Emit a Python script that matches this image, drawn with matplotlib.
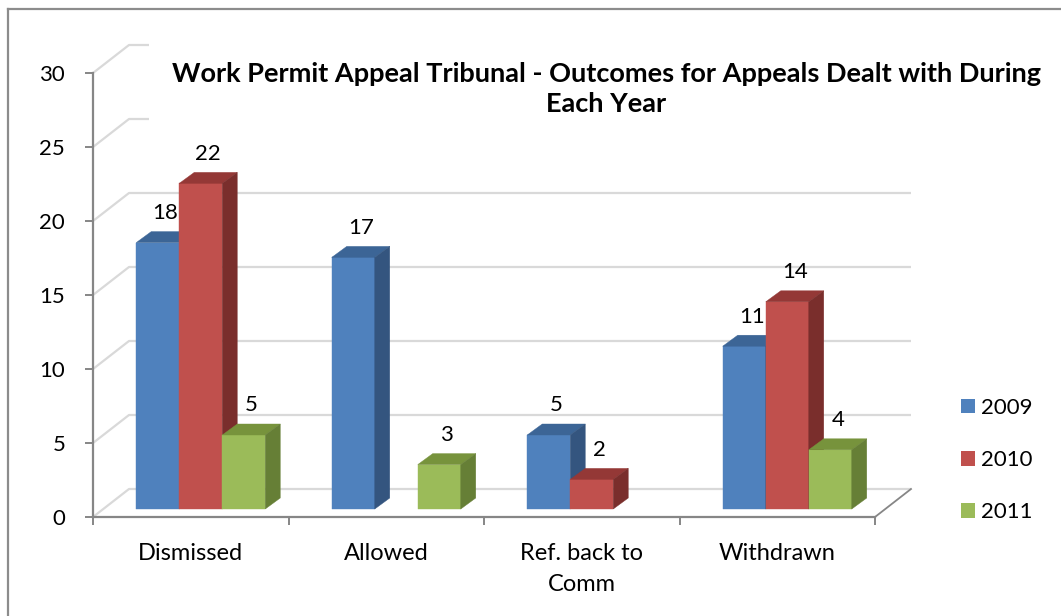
import matplotlib
matplotlib.use('Agg')
import matplotlib.pyplot as plt
from matplotlib.patches import Polygon, Rectangle
from matplotlib.lines import Line2D
import numpy as np

# ---------------- data ----------------
categories = ['Dismissed', 'Allowed', 'Ref. back to\nComm', 'Withdrawn']
years = ['2009', '2010', '2011']
v2009 = [18, 17, 5, 11]
v2010 = [22, np.nan, 2, 14]
v2011 = [5, 3, np.nan, 4]
yticks = [0, 5, 10, 15, 20, 25, 30]
title = 'Work Permit Appeal Tribunal - Outcomes for Appeals Dealt with During\nEach Year'

series = [v2009, v2010, v2011]
front_cols = ['#4F81BD', '#C0504D', '#9BBB59']
top_cols = ['#3C6596', '#943836', '#77933C']
side_cols = ['#34557F', '#7A2E2C', '#667F36']

# ---------------- layout ----------------
W, H = 1061, 616
FONT = 'Lato'
plt.rcParams['font.family'] = [FONT, 'DejaVu Sans']

fig = plt.figure(figsize=(W / 100, H / 100), dpi=100)
fig.patch.set_facecolor('white')

PX_X = 195.5   # pixels per category unit
PX_Y = 14.8    # pixels per value unit
ax_left, ax_bottom, ax_w, ax_h = 93, 99, 819, 472
ax = fig.add_axes([ax_left / W, ax_bottom / H, ax_w / W, ax_h / H])
ax.set_xlim(-0.5, -0.5 + ax_w / PX_X)
ax.set_ylim(0, ax_h / PX_Y)
ax.patch.set_alpha(0)

ncat = len(categories)
xmin, xmax = -0.5, ncat - 0.5
wdx, wdy = 36 / PX_X, 28 / PX_Y      # wall depth
fdx, fdy = 10 / PX_X, 8 / PX_Y       # bar front offset
bdx, bdy = 15 / PX_X, 11 / PX_Y      # bar depth
bw = 43 / PX_X                        # bar width

grid_col = '#D9D9D9'
axis_col = '#868686'

# back wall gridlines
for t in yticks:
    ax.plot([xmin, xmin + wdx, xmax + wdx], [t, t + wdy, t + wdy],
            color=grid_col, lw=1.6, zorder=1, clip_on=False, solid_capstyle='butt')
# floor right diagonal
ax.plot([xmax, xmax + wdx], [0, wdy], color=axis_col, lw=1.3, zorder=1, clip_on=False)

# spines / ticks
for s in ['top', 'right']:
    ax.spines[s].set_visible(False)
ax.spines['left'].set_bounds(0, max(yticks))
ax.spines['bottom'].set_bounds(xmin, xmax)
for s in ['left', 'bottom']:
    ax.spines[s].set_color(axis_col)
    ax.spines[s].set_linewidth(1.6)
    ax.spines[s].set_zorder(2)

ax.set_yticks(yticks)
ax.set_yticklabels([str(t) for t in yticks])
ax.tick_params(axis='y', direction='out', length=6, width=1.4, color=axis_col,
               labelsize=16, pad=14)
ax.set_xticks(np.arange(xmin, xmax + 0.01, 1.0))
ax.set_xticklabels([])
ax.tick_params(axis='x', which='major', direction='out', length=6, width=1.4, color=axis_col)
ax.set_xticks(np.arange(ncat), minor=True)
ax.set_xticklabels(categories, minor=True)
ax.tick_params(axis='x', which='minor', length=0, labelsize=17, pad=19)
for lab in ax.get_xticklabels(minor=True):
    lab.set_linespacing(1.55)

# bars
z = 3
for i in range(ncat):
    for j, vals in enumerate(series):
        v = vals[i]
        if np.isnan(v):
            continue
        xc = i + (j - 1) * bw + fdx
        x0 = xc - bw / 2
        ax.bar([xc], [v], width=bw, bottom=fdy, color=front_cols[j],
               edgecolor=front_cols[j], linewidth=0.3, zorder=z)
        top = Polygon([(x0, fdy + v), (x0 + bw, fdy + v), (x0 + bw + bdx, fdy + v + bdy),
                       (x0 + bdx, fdy + v + bdy)], closed=True, facecolor=top_cols[j],
                      edgecolor=top_cols[j], lw=0.3, zorder=z)
        side = Polygon([(x0 + bw, fdy), (x0 + bw + bdx, fdy + bdy),
                        (x0 + bw + bdx, fdy + v + bdy), (x0 + bw, fdy + v)], closed=True,
                       facecolor=side_cols[j], edgecolor=side_cols[j], lw=0.3, zorder=z)
        ax.add_patch(top)
        ax.add_patch(side)
        ax.text(xc + bdx / 2, fdy + v + 2.0, f'{int(v)}', ha='center', va='center',
                fontsize=16, zorder=z + 1)
        z += 1

# title with white background hiding the upper gridlines
fig.text(606 / W, 1 - 89 / H, title, ha='center', va='center', fontsize=19.5,
         fontweight='bold', linespacing=1.28, zorder=50,
         bbox=dict(facecolor='white', edgecolor='none', pad=16))

# legend
leg_handles = [Rectangle((0, 0), 1, 1, facecolor=c, edgecolor='none') for c in front_cols]
fig.legend(leg_handles, years, loc='upper left', bbox_to_anchor=(961 / W, 1 - 398 / H),
           frameon=False, fontsize=16, handlelength=0.62, handleheight=0.62,
           handletextpad=0.3, labelspacing=1.45, borderaxespad=0, borderpad=0)

# chart border
fig.add_artist(Line2D([8 / W, 8 / W], [0, 1 - 8.5 / H], transform=fig.transFigure,
                      color='#8C8C8C', lw=1.6))
fig.add_artist(Line2D([8 / W, 1], [1 - 8.5 / H, 1 - 8.5 / H], transform=fig.transFigure,
                      color='#8C8C8C', lw=1.6))

fig.savefig('out.png', dpi=100, facecolor='white')
